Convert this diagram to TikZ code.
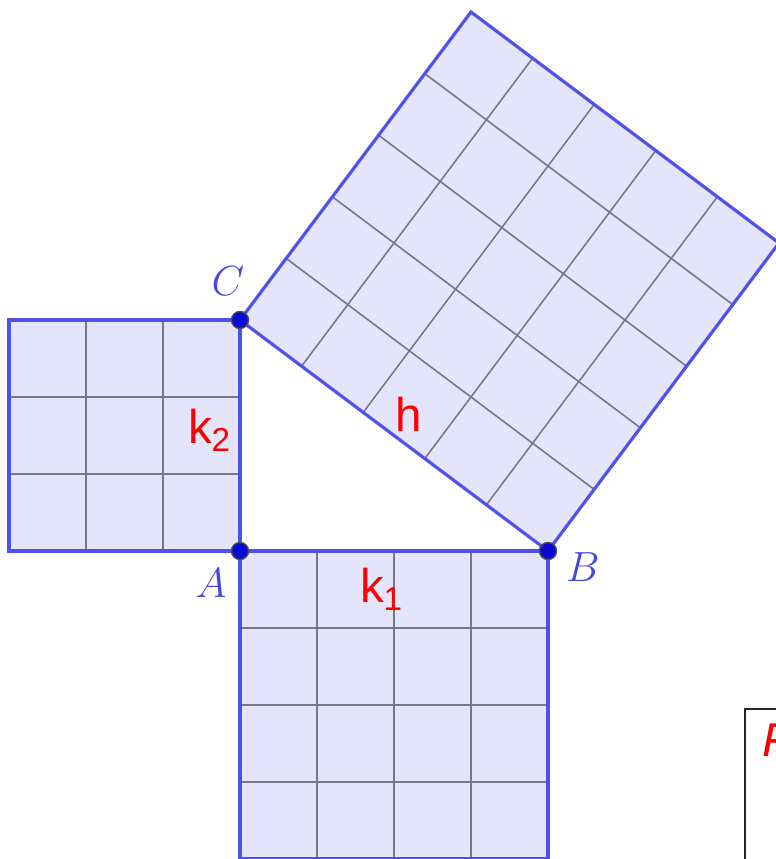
\documentclass[tikz,border=0pt]{standalone}
\usepackage{fontspec}
\newfontfamily\arialf{Liberation Sans}
\usetikzlibrary{calc}
\definecolor{sqfill}{RGB}{228,228,250}
\definecolor{sqedge}{RGB}{80,80,235}
\definecolor{gridc}{RGB}{120,120,130}
\definecolor{ptc}{RGB}{10,10,210}
\definecolor{labc}{RGB}{70,70,225}
\tikzset{
  sqbox/.style={fill=sqfill, draw=sqedge, line width=0.9pt, line join=miter},
  gridln/.style={draw=gridc, line width=0.45pt},
  pt/.style={circle, fill=ptc, draw=black!70, line width=0.4pt, inner sep=0pt, minimum size=0.17cm},
  vlab/.style={text=labc, font=\fontsize{13}{13}\selectfont, inner sep=0pt},
  slab/.style={text=red, font=\arialf\fontsize{13.5}{14}\selectfont, inner sep=0pt}
}
\begin{document}
\begin{tikzpicture}[x=0.01cm,y=-0.01cm]
\useasboundingbox (0,0) rectangle (776,859);
\clip (0,0) rectangle (776,859);
\coordinate (A) at (240,551);
\coordinate (B) at (548,551);
\coordinate (C) at (240,320);
% square on AC (left)
\coordinate (C2) at (9,320);
\coordinate (A2) at (9,551);
% square on AB (below)
\coordinate (A3) at (240,859);
\coordinate (B3) at (548,859);
% square on BC (outward)
\coordinate (B4) at ($(B)+(231,-308)$);
\coordinate (C4) at ($(C)+(231,-308)$);
% fills and grids
\fill[sqfill] (A) -- (C) -- (C2) -- (A2) -- cycle;
\foreach \i in {1,2} {
  \draw[gridln] ($(A)!\i/3!(C)$) -- ($(A2)!\i/3!(C2)$);
  \draw[gridln] ($(A)!\i/3!(A2)$) -- ($(C)!\i/3!(C2)$);
}
\draw[sqbox, fill=none] (A) -- (C) -- (C2) -- (A2) -- cycle;
\fill[sqfill] (A) -- (B) -- (B3) -- (A3) -- cycle;
\foreach \i in {1,2,3} {
  \draw[gridln] ($(A)!\i/4!(B)$) -- ($(A3)!\i/4!(B3)$);
  \draw[gridln] ($(A)!\i/4!(A3)$) -- ($(B)!\i/4!(B3)$);
}
\draw[sqbox, fill=none] (A) -- (B) -- (B3) -- (A3) -- cycle;
\fill[sqfill] (C) -- (B) -- (B4) -- (C4) -- cycle;
\foreach \i in {1,2,3,4} {
  \draw[gridln] ($(C)!\i/5!(B)$) -- ($(C4)!\i/5!(B4)$);
  \draw[gridln] ($(C)!\i/5!(C4)$) -- ($(B)!\i/5!(B4)$);
}
\draw[sqbox, fill=none] (C) -- (B) -- (B4) -- (C4) -- cycle;
% points
\node[pt] (pA) at (A) {};
\node[pt] (pB) at (B) {};
\node[pt] (pC) at (C) {};
% vertex labels
\node[vlab] (lA) at (211,583) {$A$};
\node[vlab] (lB) at (583,567) {$B$};
\node[vlab] (lC) at (228,281) {$C$};
% side labels
\node[slab] (k2) at (210,430) {k\textsubscript{2}};
\node[slab] (k1) at (382,589) {k\textsubscript{1}};
\node[slab] (h) at (409,414) {h};
% partial frame
\draw[black!85, line width=0.6pt] (745,870) -- (745,709) -- (790,709);
\node[text=red, font=\arialf\itshape\fontsize{13.5}{14}\selectfont, anchor=west, inner sep=0pt] (F) at (762,740) {F};
\end{tikzpicture}
\end{document}
